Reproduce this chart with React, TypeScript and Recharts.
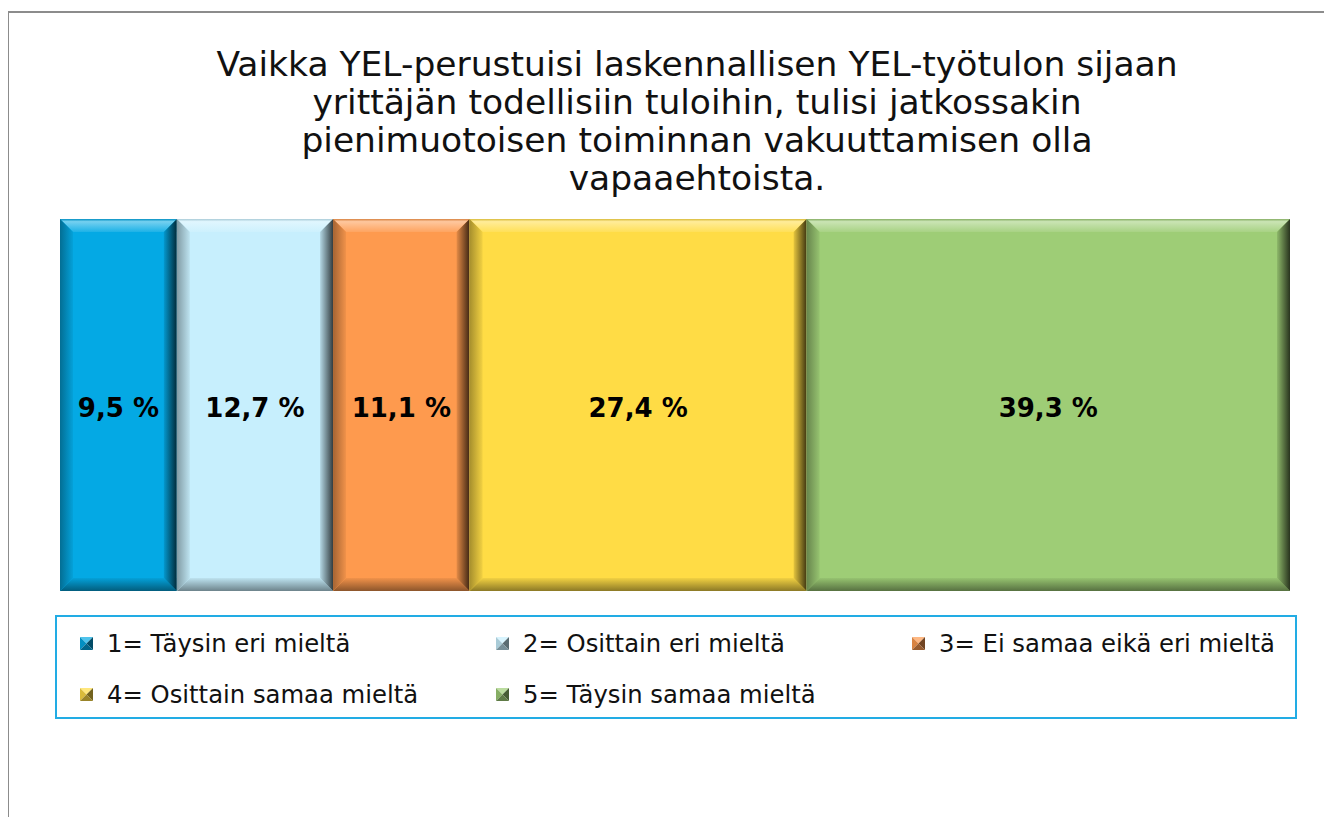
import React from 'react';
import { BarChart, Bar, XAxis, YAxis, Legend, LabelList } from 'recharts';

const categories = ['Vastaukset'];
const seriesNames = [
  '1= Täysin eri mieltä',
  '2= Osittain eri mieltä',
  '3= Ei samaa eikä eri mieltä',
  '4= Osittain samaa mieltä',
  '5= Täysin samaa mieltä',
];
const shares = [9.5, 12.7, 11.1, 27.4, 39.3];
const colors = ['#04A9E4', '#C7EFFD', '#FE9A4E', '#FFDC45', '#9ECD76'];

const titleLines = [
  'Vaikka YEL-perustuisi laskennallisen YEL-työtulon sijaan',
  'yrittäjän todellisiin tuloihin, tulisi jatkossakin',
  'pienimuotoisen toiminnan vakuuttamisen olla',
  'vapaaehtoista.',
];

const data = categories.map(name => {
  const row: Record<string, string | number> = { name };
  shares.forEach((v, i) => { row['s' + i] = v; });
  return row;
});

const FONT = '"DejaVu Sans", Verdana, sans-serif';

function mix(hex: string, target: number, amount: number): string {
  const n = parseInt(hex.slice(1), 16);
  const ch = [(n >> 16) & 255, (n >> 8) & 255, n & 255].map(c =>
    Math.round(c + (target - c) * amount)
  );
  return '#' + ch.map(c => c.toString(16).padStart(2, '0')).join('');
}

// bar with a simple bevel: light top, dark right/bottom edges
function BevelBar(props: any) {
  const { x, y, width: w, height: h, fill, index } = props;
  const b = 13;
  const id = 'bev' + index + '_' + fill.slice(1);
  return (
    <g>
      <defs>
        <linearGradient id={id + 't'} x1="0" y1="0" x2="0" y2="1">
          <stop offset="0%" stopColor={mix(fill, 0, 0.15)} />
          <stop offset="20%" stopColor={mix(fill, 255, 0.45)} />
          <stop offset="100%" stopColor={mix(fill, 255, 0.1)} />
        </linearGradient>
        <linearGradient id={id + 'r'} x1="0" y1="0" x2="1" y2="0">
          <stop offset="0%" stopColor={mix(fill, 0, 0.1)} />
          <stop offset="100%" stopColor={mix(fill, 0, 0.75)} />
        </linearGradient>
        <linearGradient id={id + 'b'} x1="0" y1="0" x2="0" y2="1">
          <stop offset="0%" stopColor={mix(fill, 0, 0.05)} />
          <stop offset="100%" stopColor={mix(fill, 0, 0.45)} />
        </linearGradient>
        <linearGradient id={id + 'l'} x1="0" y1="0" x2="1" y2="0">
          <stop offset="0%" stopColor={mix(fill, 0, 0.35)} />
          <stop offset="100%" stopColor={mix(fill, 0, 0.05)} />
        </linearGradient>
      </defs>
      <rect x={x} y={y} width={w} height={h} fill={fill} />
      <polygon points={`${x},${y} ${x + w},${y} ${x + w - b},${y + b} ${x + b},${y + b}`} fill={`url(#${id}t)`} />
      <polygon points={`${x},${y + h} ${x + w},${y + h} ${x + w - b},${y + h - b} ${x + b},${y + h - b}`} fill={`url(#${id}b)`} />
      <polygon points={`${x},${y} ${x + b},${y + b} ${x + b},${y + h - b} ${x},${y + h}`} fill={`url(#${id}l)`} />
      <polygon points={`${x + w},${y} ${x + w - b},${y + b} ${x + w - b},${y + h - b} ${x + w},${y + h}`} fill={`url(#${id}r)`} />
    </g>
  );
}

function LegendIcon({ color }: { color: string }) {
  return (
    <svg width={13} height={13} style={{ marginRight: 14, flexShrink: 0 }}>
      <polygon points="0,0 13,0 6.5,6.5" fill={mix(color, 255, 0.3)} />
      <polygon points="0,0 6.5,6.5 0,13" fill={mix(color, 0, 0.15)} />
      <polygon points="13,0 13,13 6.5,6.5" fill={mix(color, 0, 0.55)} />
      <polygon points="0,13 13,13 6.5,6.5" fill={mix(color, 0, 0.4)} />
    </svg>
  );
}

function LegendBox(props: any) {
  const items = (props.payload || []).filter((p: any) => p.type !== 'none');
  return (
    <div
      style={{
        boxSizing: 'border-box',
        width: 1242,
        height: 104,
        border: '2px solid #22ACE4',
        padding: '1px 0 0 23px',
        display: 'grid',
        gridTemplateColumns: '416px 416px 1fr',
        gridAutoRows: '51px',
        fontFamily: FONT,
        fontSize: 24.3,
        color: '#111',
        whiteSpace: 'nowrap',
      }}
    >
      {items.map((p: any) => (
        <div key={p.value} style={{ display: 'flex', alignItems: 'center' }}>
          <LegendIcon color={p.color} />
          <span>{p.value}</span>
        </div>
      ))}
    </div>
  );
}

const fmt = (v: any) => `${Number(v).toFixed(1).replace('.', ',')} %`;

export default function App() {
  return (
    <div style={{ position: 'relative', width: 1332, height: 825, margin: -8, overflow: 'hidden', background: '#fff' }}>
      <div
        style={{
          position: 'absolute',
          left: 7,
          top: 11,
          width: 1400,
          height: 900,
          border: '2px solid #8c8c8c',
        }}
      />
      <div
        style={{
          position: 'absolute',
          left: 0,
          top: 45,
          width: 1394,
          textAlign: 'center',
          fontFamily: FONT,
          fontSize: 34.5,
          lineHeight: '38px',
          color: '#111',
        }}
      >
        {titleLines.map(l => (
          <div key={l}>{l}</div>
        ))}
      </div>
      <div style={{ position: 'absolute', left: 0, top: 0 }}>
        <BarChart
          width={1332}
          height={825}
          data={data}
          layout="vertical"
          margin={{ top: 219, right: 42, bottom: 234, left: 60 }}
          barCategoryGap={0}
        >
          <XAxis type="number" domain={[0, 100]} hide />
          <YAxis type="category" dataKey="name" hide />
          <Legend
            layout="horizontal"
            verticalAlign="middle"
            align="center"
            content={<LegendBox />}
            wrapperStyle={{ position: 'absolute', left: 55, top: 615, width: 1242, height: 104 }}
          />
          {shares.map((_, i) => (
            <Bar
              key={i}
              dataKey={'s' + i}
              name={seriesNames[i]}
              stackId="a"
              fill={colors[i]}
              shape={<BevelBar />}
              isAnimationActive={false}
            >
              <LabelList
                dataKey={'s' + i}
                position="center"
                formatter={fmt}
                fill="#000"
                fontWeight="bold"
                fontSize={26}
                fontFamily={FONT}
                dy={3}
              />
            </Bar>
          ))}
        </BarChart>
      </div>
    </div>
  );
}
